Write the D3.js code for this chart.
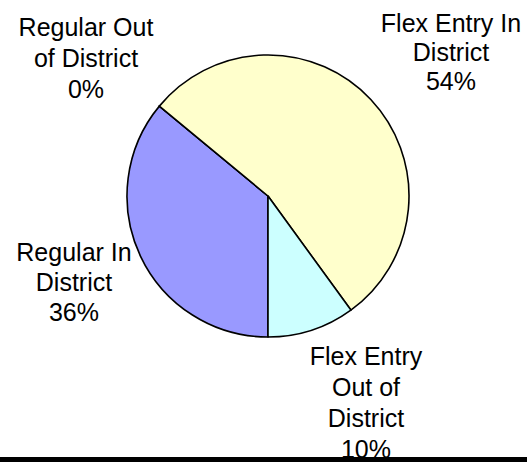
<!DOCTYPE html>
<html lang="en">
<head>
  <meta charset="UTF-8">
  <title>Pie Chart</title>
  <script src="https://d3js.org/d3.v7.min.js"></script>
  <style>
    body { margin: 0; background: #fff; }
    .lbl { font-family: "Liberation Sans", Arial, sans-serif; font-size: 25px; fill: #000; }
  </style>
</head>
<body>
<svg width="527" height="462"></svg>
<script>
  // data
  const categories = ["Regular In District", "Regular Out of District", "Flex Entry In District", "Flex Entry Out of District"];
  const values = [36, 0, 54, 10];
  const labelLines = [
    ["Regular In", "District"],
    ["Regular Out", "of District"],
    ["Flex Entry In", "District"],
    ["Flex Entry", "Out of", "District"]
  ];
  const colors = ["#9999ff", "#ccffff", "#ffffcc", "#ccffff"];

  // layout
  const cx = 268, cy = 196, r = 141;
  // label anchor: center x, first baseline y, line step
  const labelPos = [
    [74, 261, 30],
    [86, 36, 31],
    [451, 32, 29],
    [366, 365, 31]
  ];

  const svg = d3.select("svg");
  const total = d3.sum(values);

  const pie = d3.pie().sort(null).value(d => d)
    .startAngle(Math.PI).endAngle(3 * Math.PI);
  const arc = d3.arc().innerRadius(0).outerRadius(r);

  const g = svg.append("g").attr("transform", "translate(" + cx + "," + cy + ")");

  g.selectAll("path")
    .data(pie(values))
    .enter()
    .append("path")
      .attr("d", arc)
      .attr("fill", (d, i) => colors[i])
      .attr("stroke", "#000")
      .attr("stroke-width", 1.6)
      .attr("stroke-linejoin", "round");

  // labels
  categories.forEach(function(c, i) {
    const p = labelPos[i];
    const lines = labelLines[i].concat([Math.round(values[i] / total * 100) + "%"]);
    const t = svg.append("text").attr("class", "lbl").attr("text-anchor", "middle");
    lines.forEach(function(s, j) {
      t.append("tspan").attr("x", p[0]).attr("y", p[1] + j * p[2]).text(s);
    });
  });

  // bottom rule
  svg.append("rect")
    .attr("x", 0).attr("y", 457)
    .attr("width", 527).attr("height", 5)
    .attr("fill", "#000");
</script>
</body>
</html>
